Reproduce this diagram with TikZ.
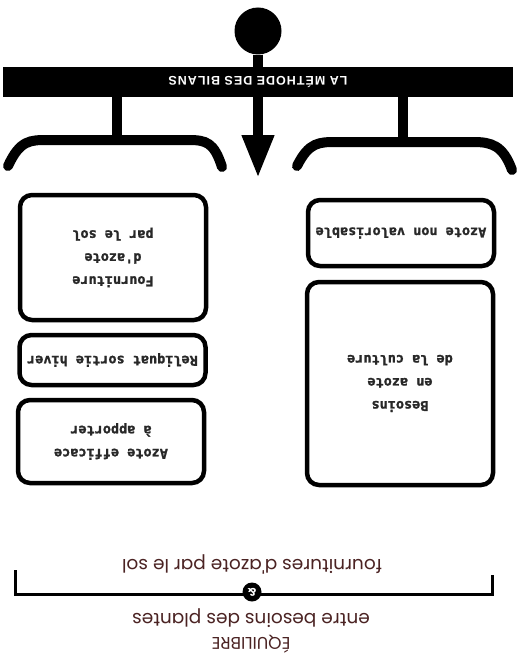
\documentclass[tikz,border=0pt]{standalone}
\usepackage{fontspec}
\usetikzlibrary{arrows.meta}
\newfontfamily\boxfont[BoldFeatures={FakeBold=1.5}]{DejaVu Sans Mono}
\newfontfamily\headfont[LetterSpace=8]{Liberation Sans}
\newfontfamily\notefont{Poppins}
\definecolor{inkgray}{RGB}{40,40,40}
\definecolor{inkbrown}{RGB}{75,35,35}
\tikzset{
  upside/.style={rotate=180},
  bilan/.style={draw, line width=4.5pt, rounded corners=12pt, minimum width=186pt,
    align=center, text=inkgray, font=\boxfont\bfseries\fontsize{13.5}{23}\selectfont, upside},
  brace/.style={line width=10pt, line cap=round},
  note/.style={text=inkbrown, font=\notefont\fontsize{18.5}{20}\selectfont, upside}
}
\begin{document}
\begin{tikzpicture}[x=1pt, y=-1pt]
  \useasboundingbox (0,0) rectangle (518,666);
  % header
  \node[circle, fill=black, minimum size=47pt, inner sep=0pt] (source) at (258,31) {};
  \node[fill=black, minimum width=510pt, minimum height=30pt, inner sep=0pt] (bilans) at (258,82) {};
  \node[upside, text=white, font=\headfont\bfseries\fontsize{12.5}{13}\selectfont] (titre) at (bilans) {LA MÉTHODE DES BILANS};
  \coordinate (pointe) at (258,178);
  \coordinate (gauche) at (117,140);
  \coordinate (droite) at (403,142);
  \draw[line width=10pt] (source) -- (bilans);
  \draw[line width=10pt, -{Triangle[width=30pt,length=43pt]}] (bilans.south) -- (pointe);
  \draw[line width=10pt] (bilans.south -| gauche) -- (gauche);
  \draw[line width=10pt] (bilans.south -| droite) -- (droite);
  % accolades
  \draw[brace] (8,166) .. controls (20,140) and (30,140) .. (48,140) -- (188,140)
    .. controls (206,140) and (214,142) .. (222,167);
  \draw[brace] (297,166) .. controls (309,142) and (319,142) .. (337,142) -- (473,142)
    .. controls (491,142) and (503,145) .. (512,170);
  % boxes
  \node[bilan, minimum height=125pt] (fourniture) at (113,257.5) {Fourniture\\d'azote\\par le sol};
  \node[bilan, minimum height=50pt] (reliquat) at (112.5,360) {Reliquat sortie hiver};
  \node[bilan, minimum height=83pt] (efficace) at (111,441.5) {Azote efficace\\à apporter};
  \node[bilan, minimum height=66pt] (nonvalo) at (401,233) {Azote non valorisable};
  \node[bilan, minimum height=203pt] (besoins) at (400,383.5) {Besoins\\en azote\\de la culture};
  % equilibre
  \coordinate (bas1) at (15,570);
  \coordinate (bas2) at (492,575);
  \draw[line width=3pt] (bas1) -- (15,594) -- (492,594) -- (bas2);
  \node[circle, fill=black, minimum size=19pt, inner sep=0pt, text=white,
    font=\notefont\bfseries\fontsize{11}{11}\selectfont, upside] (et) at (252,592) {\&};
  \node[note] (fournitures) at (252,564) {fournitures d'azote par le sol};
  \node[note] (entre) at (251,618) {entre besoins des plantes};
  \node[note, font=\notefont\fontsize{17}{17}\selectfont] (equilibre) at (251,644) {ÉQUILIBRE};
\end{tikzpicture}
\end{document}
